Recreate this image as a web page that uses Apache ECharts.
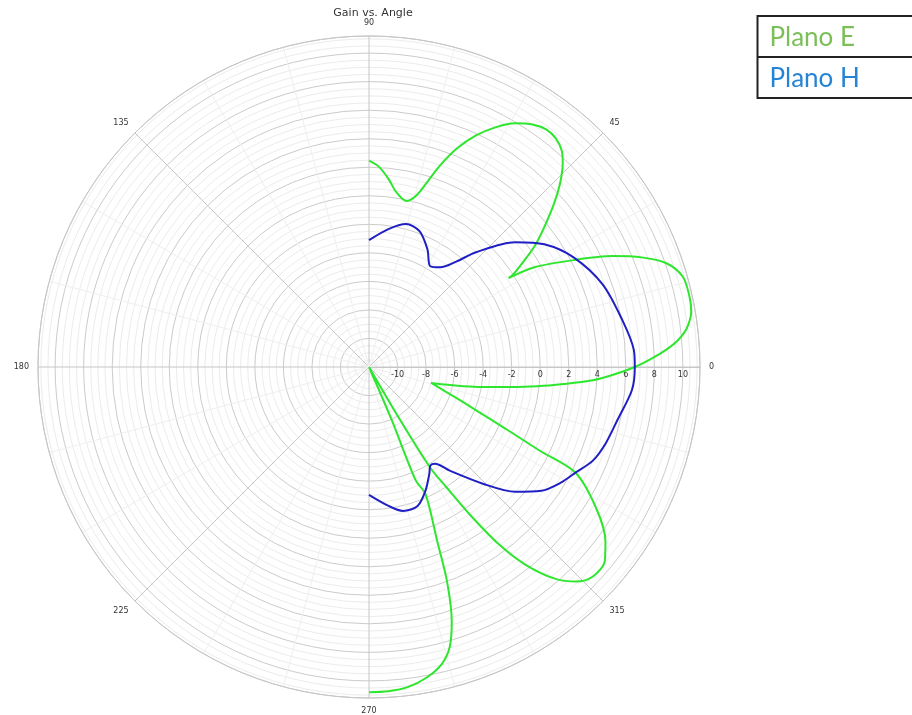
<!DOCTYPE html>
<html>
<head>
<meta charset="utf-8">
<script src="https://cdn.jsdelivr.net/npm/echarts@6/dist/echarts.min.js"></script>
<style>
  html, body { margin: 0; padding: 0; background: #ffffff; }
  #chart { width: 912px; height: 715px; }
</style>
</head>
<body>
<div id="chart"></div>
<script>
// Radiation pattern: gain (dB) against angle (degrees)
const chartTitle = 'Gain vs. Angle';
const seriesNames = ['Plano E', 'Plano H'];

// Gain axis range and ring spacing (dB)
const gainMin = -12;
const gainMax = 11.2;
const gainStep = 2;
const angleStep = 45;

// Plano E: [gain dB, angle deg], traced from 90 down through 0 to -90 (270)
const planoE = [
  [2.46, 90], [2.06, 87.2], [1.26, 84.1], [0.42, 81.2], [-0.07, 77.4],
  [0.43, 74.7], [1.61, 72.5], [2.96, 70.6], [4.50, 68.1], [5.88, 65.2],
  [6.99, 62.2], [7.91, 59.1], [8.51, 56.0], [8.77, 53.3], [8.69, 50.7],
  [8.31, 48.3], [7.69, 46.4], [6.54, 43.8], [5.28, 41.4], [3.72, 38.6],
  [2.36, 36.1], [1.04, 34.2], [0.01, 32.7], [-0.40, 32.5],
  [1.54, 31.1], [4.17, 27.6], [6.74, 24.5], [8.60, 21.9], [10.05, 19.3],
  [10.88, 16.1], [11.0, 12.7], [10.92, 9.8], [10.45, 7.0], [9.75, 5.0],
  [8.90, 3.4], [7.75, 1.6], [6.63, 0], [5.07, -1.9], [3.72, -3.4], [1.70, -5.0],
  [-0.12, -6.5], [-3.02, -9.0], [-5.25, -11.5], [-7.50, -14.4],
  [-5.48, -19.6], [-3.90, -22.0], [-1.52, -24.3], [1.30, -26.1], [4.26, -27.1],
  [6.72, -31.8], [8.59, -36.4], [9.41, -39.5], [9.49, -43.1], [8.91, -46.0],
  [7.69, -48.8], [5.62, -51.7], [3.38, -53.8], [0.47, -55.7], [-1.93, -57.2],
  [-3.74, -58.7], [-8.0, -59.6], [-12, -60.5],
  [-12, -66.5], [-8.0, -66.8], [-3.38, -67.6], [-2.27, -66.0], [1.11, -68.6],
  [3.99, -70.0], [6.77, -72.0], [8.41, -73.9], [9.43, -76.2], [10.11, -79.3],
  [10.60, -83.1], [10.76, -86.6], [10.79, -90]
];

// Plano H: [gain dB, angle deg]
const planoH = [
  [-3.11, 90], [-2.24, 82.0], [-1.65, 75.5], [-1.84, 69.6], [-2.79, 63.6],
  [-3.74, 58.7], [-3.42, 54.5], [-2.38, 50.3], [-1.00, 47.0], [1.47, 40.5],
  [3.00, 35.0], [4.27, 28.2], [5.37, 19.5], [6.05, 10.6], [6.60, 3.7],
  [6.63, 0], [6.50, -5.0], [5.80, -12.1], [5.43, -17.9], [5.01, -22.7],
  [4.26, -27.1], [3.70, -31.1], [2.87, -35.7], [1.47, -40.5], [-0.57, -45.7],
  [-2.79, -52.1], [-3.79, -55.6], [-3.86, -58.1], [-3.41, -60.5], [-2.46, -65.5],
  [-1.68, -70.7], [-1.63, -76.7], [-2.17, -82.0], [-3.04, -90]
];

// Angles are stored from +90 to -90; the angle axis runs 0..360
const toAxis = (pts) => pts.map(([g, a]) => [g, (a + 360) % 360]);

const chart = echarts.init(document.getElementById('chart'), null, { renderer: 'canvas' });

const labelFont = 'DejaVu Sans';

chart.setOption({
  animation: false,
  backgroundColor: '#ffffff',
  title: {
    text: chartTitle,
    left: 368,
    top: 3,
    textAlign: 'center',
    textStyle: { fontFamily: labelFont, fontSize: 11, fontWeight: 'normal', color: '#333333' }
  },
  polar: {
    center: [369, 367],
    radius: 331
  },
  angleAxis: {
    type: 'value',
    min: 0,
    max: 360,
    interval: angleStep,
    startAngle: 0,
    clockwise: false,
    axisLine: { show: true, lineStyle: { color: '#c6c6c6', width: 1 } },
    axisTick: { show: false },
    axisLabel: {
      margin: 9,
      fontFamily: labelFont,
      fontSize: 8,
      color: '#333333',
      formatter: (v) => (v >= 360 ? '' : String(v))
    },
    splitLine: { show: true, lineStyle: { color: '#c6c6c6', width: 1 } },
    minorTick: { show: false, splitNumber: 3 },
    minorSplitLine: { show: true, lineStyle: { color: '#efefef', width: 1 } }
  },
  radiusAxis: {
    type: 'value',
    min: gainMin,
    max: gainMax,
    interval: gainStep,
    axisLine: { show: true, lineStyle: { color: '#c6c6c6', width: 1 } },
    axisTick: { show: false },
    axisLabel: {
      margin: -4,
      verticalAlign: 'top',
      fontFamily: labelFont,
      fontSize: 8,
      color: '#333333',
      formatter: (v) => (v > gainMin && v <= 10 && Number.isInteger(v) ? String(v) : '')
    },
    splitLine: { show: true, lineStyle: { color: '#cbcbcb', width: 1 } },
    minorTick: { show: false, splitNumber: 4 },
    minorSplitLine: { show: true, lineStyle: { color: '#ececec', width: 1 } }
  },
  series: [
    {
      name: seriesNames[0],
      type: 'line',
      coordinateSystem: 'polar',
      data: toAxis(planoE),
      symbol: 'none',
      smooth: 0.3,
      lineStyle: { color: '#2ee62e', width: 2 },
      z: 3
    },
    {
      name: seriesNames[1],
      type: 'line',
      coordinateSystem: 'polar',
      data: toAxis(planoH),
      symbol: 'none',
      smooth: 0.3,
      lineStyle: { color: '#1f1fc4', width: 2 },
      z: 4
    }
  ],
  graphic: [
    {
      type: 'group',
      left: 755,
      top: 15,
      children: [
        { type: 'rect', shape: { x: 0, y: 0, width: 170, height: 82 },
          style: { fill: '#ffffff', stroke: '#222222', lineWidth: 2 } },
        { type: 'line', shape: { x1: 0, y1: 41, x2: 170, y2: 41 },
          style: { stroke: '#222222', lineWidth: 2 } },
        { type: 'text', x: 12, y: 22,
          style: { text: seriesNames[0], font: '26px Lato', fill: '#7abf58', verticalAlign: 'middle' } },
        { type: 'text', x: 12, y: 63,
          style: { text: seriesNames[1], font: '26px Lato', fill: '#2684d6', verticalAlign: 'middle' } }
      ]
    }
  ]
});
</script>
</body>
</html>
